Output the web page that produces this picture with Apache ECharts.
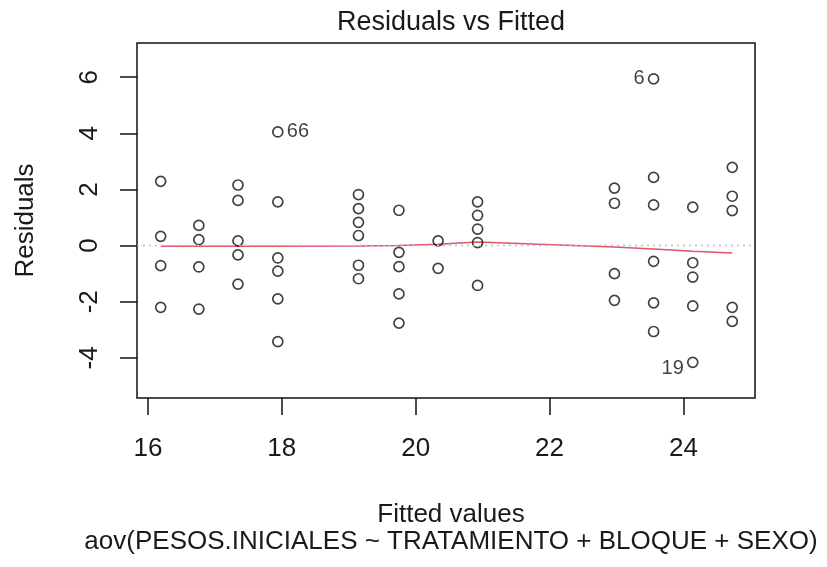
<!DOCTYPE html>
<html>
<head>
<meta charset="utf-8">
<script src="https://cdn.jsdelivr.net/npm/echarts@6/dist/echarts.min.js"></script>
<style>
  html, body { margin: 0; padding: 0; background: #fff; }
  #chart { width: 827px; height: 567px; }
</style>
</head>
<body>
<div id="chart"></div>
<script>
// Fitted values of the model (one per treatment/block/sex cell)
var fittedLevels = [16.19, 16.76, 17.345, 17.94, 19.145, 19.75, 20.335, 20.925, 22.97, 23.555, 24.14, 24.73];

// Residuals observed at each fitted level
var residualsByLevel = [
  [2.29, 0.33, -0.71, -2.20],
  [0.72, 0.21, -0.76, -2.26],
  [2.16, 1.61, 0.17, -0.33, -1.37],
  [4.05, 1.56, -0.44, -0.91, -1.90, -3.42],
  [1.82, 1.32, 0.83, 0.36, -0.70, -1.18],
  [1.26, -0.24, -0.75, -1.72, -2.76],
  [0.17, -0.81],
  [1.56, 1.08, 0.59, 0.11, -1.42],
  [2.05, 1.51, -1.00, -1.95],
  [5.94, 2.43, 1.45, -0.56, -2.04, -3.06],
  [1.37, -0.61, -1.12, -2.15, -4.16],
  [2.79, 1.76, 1.25, -2.20, -2.70]
];

// Lowess smooth of residuals at each fitted level
var smoothValues = [-0.02, -0.02, -0.02, -0.02, -0.01, 0.0, 0.05, 0.13, -0.05, -0.12, -0.20, -0.26];

// Observations flagged with their row number: [levelIndex, residual, id]
var flaggedObs = [
  [3, 4.05, '66'],
  [9, 5.94, '6'],
  [10, -4.16, '19']
];

var xTicks = [16, 18, 20, 22, 24];
var yTicks = [-4, -2, 0, 2, 4, 6];

var xRange = [15.836, 25.07];
var yRange = [-5.43, 7.22];

var FONT = "'Liberation Sans', Arial, sans-serif";
var INK = '#1a1a1a';

var points = [];
fittedLevels.forEach(function (fx, i) {
  residualsByLevel[i].forEach(function (r) { points.push([fx, r]); });
});
var smooth = fittedLevels.map(function (fx, i) { return [fx, smoothValues[i]]; });
var midX = (xRange[0] + xRange[1]) / 2;
// id labels sit beside their point: right of it on the left half, left of it on the right half
var flagged = flaggedObs.map(function (o) {
  var fx = fittedLevels[o[0]];
  return {
    value: [fx, o[1]],
    label: {
      formatter: o[2],
      position: fx > midX ? 'left' : 'right',
      offset: o[2] === '19' ? [0, 6] : [0, 0]
    }
  };
});

var chart = echarts.init(document.getElementById('chart'), null, { renderer: 'canvas' });
chart.setOption({
  animation: false,
  backgroundColor: '#fff',
  title: [
    {
      text: 'Residuals vs Fitted',
      left: 446, top: 4, textAlign: 'center',
      textStyle: { fontFamily: FONT, fontSize: 27, fontWeight: 'normal', color: INK }
    },
    {
      text: 'Fitted values',
      left: 446, top: 497, textAlign: 'center',
      textStyle: { fontFamily: FONT, fontSize: 26, fontWeight: 'normal', color: INK }
    },
    {
      text: 'aov(PESOS.INICIALES ~ TRATAMIENTO + BLOQUE + SEXO)',
      left: 446, top: 524, textAlign: 'center',
      textStyle: { fontFamily: FONT, fontSize: 26, fontWeight: 'normal', color: INK }
    }
  ],
  grid: {
    left: 137, top: 43, width: 618, height: 355,
    show: true, borderColor: '#111', borderWidth: 1.5, backgroundColor: 'transparent'
  },
  xAxis: {
    type: 'value', min: xRange[0], max: xRange[1],
    axisLine: { show: false, onZero: false },
    splitLine: { show: false },
    axisTick: { show: true, customValues: xTicks, length: 17, lineStyle: { color: '#111', width: 1.5 } },
    axisLabel: { customValues: xTicks, margin: 38, fontFamily: FONT, fontSize: 26, color: INK }
  },
  yAxis: {
    type: 'value', min: yRange[0], max: yRange[1],
    name: 'Residuals', nameLocation: 'middle', nameRotate: 90, nameGap: 98,
    nameTextStyle: { fontFamily: FONT, fontSize: 26, color: INK },
    axisLine: { show: false, onZero: false },
    splitLine: { show: false },
    axisTick: { show: true, customValues: yTicks, length: 17, lineStyle: { color: '#111', width: 1.5 } },
    axisLabel: { customValues: yTicks, rotate: 90, margin: 34, fontFamily: FONT, fontSize: 26, color: INK }
  },
  series: [
    {
      type: 'scatter',
      data: points,
      symbol: 'circle', symbolSize: 10,
      itemStyle: { color: 'rgba(0,0,0,0)', borderColor: '#111', borderWidth: 1.7 },
      z: 3
    },
    {
      type: 'line',
      data: smooth,
      showSymbol: false, symbol: 'none',
      lineStyle: { color: '#DF536B', width: 1.5 },
      z: 2
    },
    {
      type: 'line',
      data: [[xRange[0], 0], [xRange[1], 0]],
      showSymbol: false, symbol: 'none',
      lineStyle: { color: '#BEBEBE', width: 1.5, type: [2, 4] },
      z: 4
    },
    {
      type: 'scatter',
      data: flagged,
      symbol: 'circle', symbolSize: 10,
      itemStyle: { color: 'rgba(0,0,0,0)', borderWidth: 0 },
      label: {
        show: true, distance: 4,
        fontFamily: FONT, fontSize: 20, color: '#111'
      },
      z: 5
    }
  ]
});
</script>
</body>
</html>
